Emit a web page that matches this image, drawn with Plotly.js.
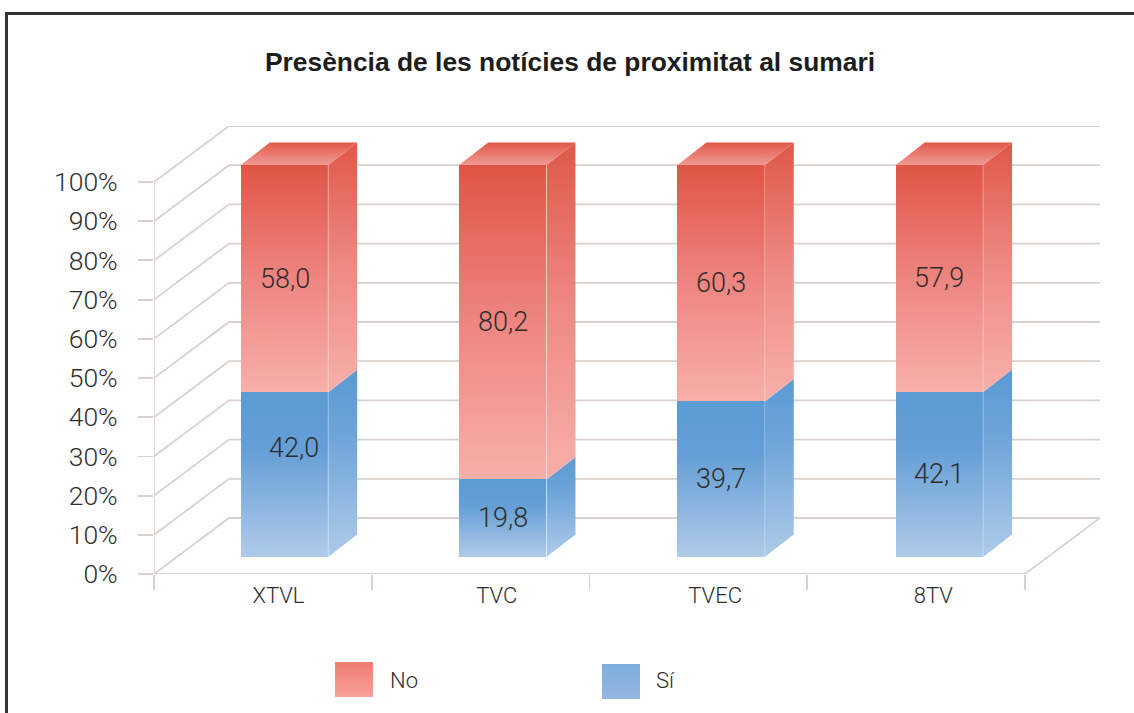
<!DOCTYPE html>
<html>
<head>
<meta charset="utf-8">
<script src="https://cdn.plot.ly/plotly-3.0.1.min.js"></script>
<style>html,body{margin:0;padding:0;background:#fff;overflow:hidden}</style>
</head>
<body>
<div id="chart" style="width:1134px;height:713px"></div>
<script>
const chartTitle = 'Presència de les notícies de proximitat al sumari';
const categories = ['XTVL', 'TVC', 'TVEC', '8TV'];
const siValues = [42.0, 19.8, 39.7, 42.1];
const noValues = [58.0, 80.2, 60.3, 57.9];
const percentTicks = [0, 10, 20, 30, 40, 50, 60, 70, 80, 90, 100];
const floorTicks = [0, 1, 2, 3, 4];

const W = 1134, H = 713;
const L = 154, R = 1100, T = 126, B = 574;
const pxPerPct = 3.92;
const GRID = '#d9d1cd', INK = '#2e2e2e';
const FONT = 'Liberation Sans, Arial, sans-serif';
const LIGHT = 'Roboto, Liberation Sans, sans-serif';
const barWidth = 0.4;
const barDX = 29 / 218.3, barDY = 22.5 / pxPerPct;   // bar depth
const wallDX = 75 / 217.75, wallDY = 56 / pxPerPct;  // wall depth

const px = v => (v - L) / (R - L);
const py = v => (B - v) / (B - T);
const fmt = v => v.toFixed(1).replace('.', ',');

function poly(xs, ys, color, meta) {
  return {type:'scatter', mode:'lines', xaxis:'x2', yaxis:'y2', x:xs, y:ys, fill:'toself',
          fillcolor:color, line:{width:0}, showlegend:false, hoverinfo:'skip', meta:meta};
}
const traces = [
  {type:'bar', name:'Sí', x:categories.map((c,i)=>i), y:siValues, width:barWidth, xaxis:'x2', yaxis:'y2',
   marker:{color:'#5b9ad3', line:{width:0}}, meta:'frontSi', showlegend:false},
  {type:'bar', name:'No', x:categories.map((c,i)=>i), y:noValues, width:barWidth, xaxis:'x2', yaxis:'y2',
   marker:{color:'#e05545', line:{width:0}}, meta:'frontNo', showlegend:false}
];
categories.forEach((c,i)=>{
  const r = i + barWidth/2, l = i - barWidth/2;
  const s = siValues[i], t = siValues[i] + noValues[i];
  traces.push(poly([r,r+barDX,r+barDX,r,r],[0,barDY,s+barDY,s,0],'#5b9ad3','sideSi'));
  traces.push(poly([r,r+barDX,r+barDX,r,r],[s,s+barDY,t+barDY,t,s],'#e05545','sideNo'));
  traces.push(poly([l,l+barDX,r+barDX,r,l],[t,t+barDY,t+barDY,t,t],'#e05545','cap'));
  traces.push({type:'scatter', mode:'lines', xaxis:'x2', yaxis:'y2', x:[r,r], y:[0,t],
    line:{color:'rgba(255,255,255,0.3)', width:1}, showlegend:false, hoverinfo:'skip', meta:'edge'});
});

const shapes = [];
const gridLine = {color:GRID, width:1.8};
percentTicks.forEach(v=>{
  shapes.push({type:'path', xref:'x', yref:'y', layer:'below', line:gridLine,
    path:`M0,${v} L${wallDX},${v+wallDY} L${(R-L)/217.75},${v+wallDY}`});
});
shapes.push({type:'line', xref:'x', yref:'y', layer:'below', line:gridLine, x0:0, x1:0, y0:0, y1:100});
shapes.push({type:'path', xref:'x', yref:'y', layer:'below', line:gridLine,
  path:`M0,0 L4,0 L${4+wallDX},${wallDY}`});
// frame
shapes.push({type:'line', xref:'paper', yref:'paper', x0:px(5), x1:px(W), y0:py(13.5), y1:py(13.5), line:{color:'#333',width:3}});
shapes.push({type:'line', xref:'paper', yref:'paper', x0:px(6.5), x1:px(6.5), y0:py(13), y1:py(H), line:{color:'#333',width:3}});
// legend swatches
const swatchNo = shapes.length;
shapes.push({type:'rect', xref:'paper', yref:'paper', x0:px(335), x1:px(373), y0:py(697), y1:py(662), fillcolor:'#ef7d72', line:{width:0}});
const swatchSi = shapes.length;
shapes.push({type:'rect', xref:'paper', yref:'paper', x0:px(602), x1:px(640), y0:py(699), y1:py(664), fillcolor:'#7eaedd', line:{width:0}});

const annotations = [];
const labelFont = {family:LIGHT, size:27, weight:300, color:INK};
categories.forEach((c,i)=>{
  const shiftSi = i === 0 ? {xs:9, ys:27} : {xs:0, ys:0};
  annotations.push({xref:'x2', yref:'y2', x:i, y:siValues[i]/2, text:fmt(siValues[i]), showarrow:false, font:labelFont,
    xshift:shiftSi.xs, yshift:shiftSi.ys});
  annotations.push({xref:'x2', yref:'y2', x:i, y:siValues[i]+noValues[i]/2, text:fmt(noValues[i]), showarrow:false, font:labelFont});
});
const legendFont = {family:LIGHT, size:22, weight:300, color:INK};
annotations.push({xref:'paper', yref:'paper', x:px(388), y:py(680), xanchor:'left', yanchor:'middle', text:'No', showarrow:false, font:legendFont});
annotations.push({xref:'paper', yref:'paper', x:px(654), y:py(680), xanchor:'left', yanchor:'middle', text:'Sí', showarrow:false, font:legendFont});

const layout = {
  width:W, height:H, paper_bgcolor:'#fff', plot_bgcolor:'rgba(0,0,0,0)',
  margin:{l:L, r:W-R, t:T, b:H-B, pad:0},
  showlegend:false, hovermode:false, barmode:'stack',
  title:{text:chartTitle, xref:'container', yref:'container', x:570/W, xanchor:'center', y:1-62/H, yanchor:'middle',
         font:{family:FONT, size:26.4, weight:700, color:'#1d1d1d'}},
  xaxis:{range:[0,(R-L)/217.75], tickmode:'array', tickvals:floorTicks, ticktext:floorTicks.map(()=>''), ticks:'outside',
         ticklen:15, tickwidth:1.8, tickcolor:GRID, showgrid:false, zeroline:false, showline:false, fixedrange:true},
  xaxis2:{overlaying:'x', anchor:'y', side:'bottom', range:[(L-284.5)/218.3,(R-284.5)/218.3], tickmode:'array',
          tickvals:categories.map((c,i)=>i), ticktext:categories, ticks:'', showgrid:false, zeroline:false, showline:false,
          ticklabelshift:-6, ticklabelstandoff:6, tickfont:{family:LIGHT, size:22, weight:300, color:INK}, fixedrange:true},
  yaxis:{range:[0,(B-T)/pxPerPct], tickmode:'array', tickvals:percentTicks, ticktext:percentTicks.map(v=>v+'%'),
         ticks:'outside', ticklen:15, tickwidth:1.8, tickcolor:GRID, showgrid:false, zeroline:false, showline:false,
         ticklabelstandoff:15, tickfont:{family:LIGHT, size:26.5, weight:300, color:INK}, fixedrange:true},
  yaxis2:{overlaying:'y', anchor:'x2', range:[-(B-557)/pxPerPct,(557-T)/pxPerPct], visible:false, fixedrange:true},
  shapes:shapes, annotations:annotations
};

const gradients = {
  frontNo:[['0','#e05545'],['0.5','#ee8580'],['1','#f8b0aa']],
  sideNo:[['0','#de5848'],['0.5','#ee8a84'],['1','#f8b0aa']],
  frontSi:[['0','#5b9ad3'],['0.35','#659fd6'],['1','#b0cbe9']],
  sideSi:[['0','#5b9ad3'],['0.35','#6ea4d8'],['1','#aecbe9']],
  cap:[['0','#e25849'],['1','#f19a94']],
  swNo:[['0','#ef7d72'],['1','#f8a19a']],
  swSi:[['0','#7eaedd'],['1','#94b7e0']]
};

function applyGradients(gd){
  const svg = gd.querySelector('svg.main-svg');
  let defs = svg.querySelector('defs');
  const NS = 'http://www.w3.org/2000/svg';
  Object.keys(gradients).forEach(k=>{
    if (svg.querySelector('#grad-'+k)) return;
    const g = document.createElementNS(NS,'linearGradient');
    g.setAttribute('id','grad-'+k);
    g.setAttribute('x1','0');g.setAttribute('y1','0');g.setAttribute('x2','0');g.setAttribute('y2','1');
    gradients[k].forEach(s=>{
      const st = document.createElementNS(NS,'stop');
      st.setAttribute('offset',s[0]);st.setAttribute('stop-color',s[1]);
      g.appendChild(st);
    });
    defs.appendChild(g);
  });
  gd.querySelectorAll('.barlayer .trace').forEach(t=>{
    const m = t.__data__[0].trace.meta;
    t.querySelectorAll('path').forEach(p=>{p.style.fill='url(#grad-'+m+')';});
  });
  gd.querySelectorAll('.scatterlayer .trace').forEach(t=>{
    const m = t.__data__[0].trace.meta;
    if (m === 'edge') return;
    t.querySelectorAll('path.js-fill').forEach(p=>{p.style.fill='url(#grad-'+m+')';});
  });
  gd.querySelectorAll('.shapelayer path').forEach(p=>{
    const idx = +p.getAttribute('data-index');
    if (idx === swatchNo) p.style.fill='url(#grad-swNo)';
    if (idx === swatchSi) p.style.fill='url(#grad-swSi)';
  });
}
Plotly.newPlot('chart', traces, layout, {displayModeBar:false, staticPlot:true}).then(applyGradients);
</script>
</body>
</html>
